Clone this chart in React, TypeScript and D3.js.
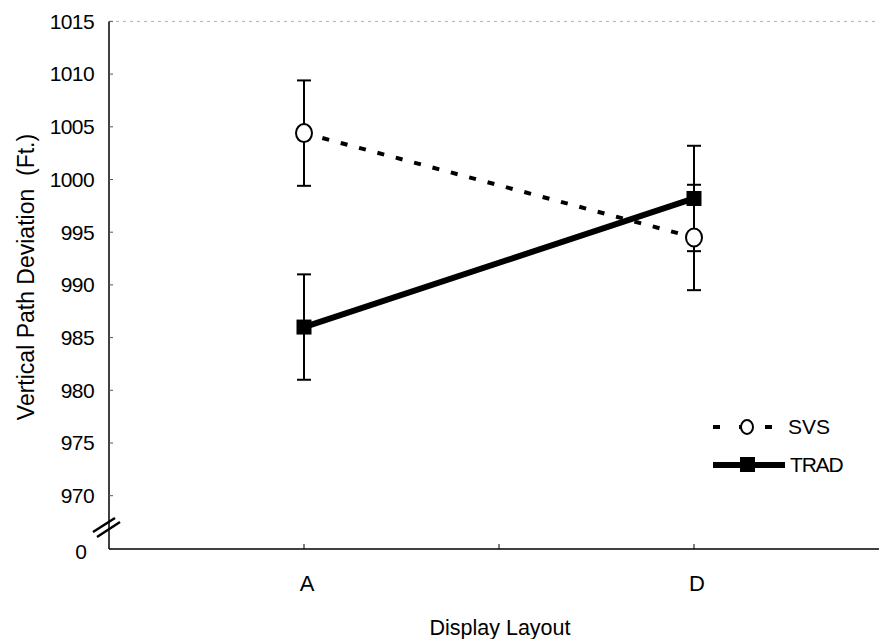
import React from "react";
import * as d3 from "d3";

const categories = ["A", "D"];
const catIndex = [0, 2];
const xTickIndex = [0, 1, 2];
const svsValues = [1004.4, 994.5];
const svsErr = [5.0, 5.0];
const tradValues = [986.0, 998.2];
const tradErr = [5.0, 5.0];
const yTicks = [970, 975, 980, 985, 990, 995, 1000, 1005, 1010, 1015];
const seriesNames = ["SVS", "TRAD"];

const W = 879;
const H = 639;
const axisX = 109;
const axisBottom = 549;
const FONT = "'Liberation Sans', Arial, sans-serif";

export default function App() {
  const x = d3.scaleLinear().domain([-1, 3]).range([axisX, axisX + 780]);
  const y = d3.scaleLinear().domain([970, 1015]).range([495.7, 21.4]);
  const line = d3
    .line<number>()
    .x((_, i) => x(catIndex[i]))
    .y((d) => y(d));

  const errBar = (vals: number[], errs: number[], key: string) =>
    vals.map((v, i) => {
      const cx = x(catIndex[i]);
      const y1 = y(v + errs[i]);
      const y2 = y(v - errs[i]);
      return (
        <g key={key + i} stroke="#000" strokeWidth={2}>
          <line x1={cx} x2={cx} y1={y1} y2={y2} />
          <line x1={cx - 7} x2={cx + 7} y1={y1} y2={y1} />
          <line x1={cx - 7} x2={cx + 7} y1={y2} y2={y2} />
        </g>
      );
    });

  return (
    <svg
      width={W}
      height={H}
      style={{ position: "absolute", left: 0, top: 0, background: "#fff" }}
      fontFamily={FONT}
    >
      <rect x={0} y={0} width={W} height={H} fill="#fff" />
      {/* faint top border */}
      <line
        x1={axisX}
        x2={W}
        y1={y(1015)}
        y2={y(1015)}
        stroke="#b0b0b0"
        strokeWidth={1}
        strokeDasharray="3 4"
      />
      {/* y axis */}
      <line x1={axisX} x2={axisX} y1={y(1015)} y2={axisBottom} stroke="#000" strokeWidth={1.5} />
      {yTicks.map((t) => (
        <g key={t}>
          <line x1={axisX} x2={axisX + 4} y1={y(t)} y2={y(t)} stroke="#555" strokeWidth={1} />
          <text x={94} y={y(t)} dy="0.35em" textAnchor="end" fontSize={21} letterSpacing={-0.6}>
            {t}
          </text>
        </g>
      ))}
      <text x={87} y={552} dy="0.35em" textAnchor="end" fontSize={21}>
        0
      </text>
      {/* axis break */}
      <g stroke="#000" strokeWidth={2.5}>
        <line x1={93} y1={532} x2={115} y2={518} />
        <line x1={97} y1={537} x2={120} y2={522} />
      </g>
      {/* x axis */}
      <line x1={axisX} x2={W} y1={axisBottom} y2={axisBottom} stroke="#000" strokeWidth={1.5} />
      {xTickIndex.map((t) => (
        <line key={t} x1={x(t)} x2={x(t)} y1={axisBottom} y2={axisBottom - 5} stroke="#000" strokeWidth={1} />
      ))}
      {categories.map((c, i) => (
        <text key={c} x={x(catIndex[i]) + 3} y={583} dy="0.35em" textAnchor="middle" fontSize={22}>
          {c}
        </text>
      ))}
      <text x={500} y={627} dy="0.35em" textAnchor="middle" fontSize={21.5}>
        Display Layout
      </text>
      <text
        transform={`translate(26,277) rotate(-90)`}
        dy="0.35em"
        textAnchor="middle"
        fontSize={23}
        style={{ whiteSpace: "pre" }}
      >
        {"Vertical Path Deviation  (Ft.)"}
      </text>

      {/* error bars */}
      {errBar(svsValues, svsErr, "svs")}
      {errBar(tradValues, tradErr, "trad")}

      {/* lines */}
      <path d={line(svsValues) || ""} fill="none" stroke="#000" strokeWidth={4} strokeDasharray="7 12" />
      <path d={line(tradValues) || ""} fill="none" stroke="#000" strokeWidth={6} />

      {/* markers */}
      {svsValues.map((v, i) => (
        <ellipse key={"sm" + i} cx={x(catIndex[i])} cy={y(v)} rx={8} ry={9} fill="#fff" stroke="#000" strokeWidth={2} />
      ))}
      {tradValues.map((v, i) => (
        <rect key={"tm" + i} x={x(catIndex[i]) - 7.5} y={y(v) - 7.5} width={15} height={15} fill="#000" />
      ))}

      {/* legend */}
      <g>
        <line x1={713} x2={781} y1={427} y2={427} stroke="#000" strokeWidth={4} strokeDasharray="7 19" />
        <ellipse cx={747} cy={427} rx={6} ry={7} fill="#fff" stroke="#000" strokeWidth={2} />
        <text x={788} y={427} dy="0.35em" fontSize={21}>
          {seriesNames[0]}
        </text>
        <line x1={713} x2={785} y1={465} y2={465} stroke="#000" strokeWidth={6} />
        <rect x={740} y={457} width={15} height={15} fill="#000" />
        <text x={790} y={465} dy="0.35em" fontSize={21} letterSpacing={-1.2}>
          {seriesNames[1]}
        </text>
      </g>
    </svg>
  );
}
